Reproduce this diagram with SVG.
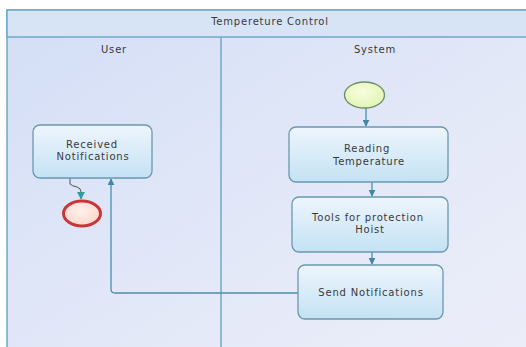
<svg xmlns="http://www.w3.org/2000/svg" width="526" height="347" viewBox="0 0 526 347">
<defs>
<linearGradient id="bg" x1="0" y1="0" x2="1" y2="1">
<stop offset="0" stop-color="#d3def6"/>
<stop offset="0.6" stop-color="#e4e9f8"/>
<stop offset="1" stop-color="#eceef9"/>
</linearGradient>
<linearGradient id="box" x1="0" y1="0" x2="0" y2="1">
<stop offset="0" stop-color="#eef5fc"/>
<stop offset="1" stop-color="#c4e2f4"/>
</linearGradient>
<radialGradient id="start" cx="0.45" cy="0.4" r="0.6">
<stop offset="0" stop-color="#f8fde0"/>
<stop offset="1" stop-color="#e2f5b4"/>
</radialGradient>
<radialGradient id="end" cx="0.45" cy="0.4" r="0.6">
<stop offset="0" stop-color="#fff2ea"/>
<stop offset="1" stop-color="#fbd6cc"/>
</radialGradient>
<marker id="arr" viewBox="0 0 10 10" refX="9" refY="5" markerWidth="7" markerHeight="7" markerUnits="userSpaceOnUse" orient="auto">
<path d="M0,0 L10,5 L0,10 z" fill="#3f87a6"/>
</marker>
<marker id="arrT" viewBox="0 0 10 10" refX="9" refY="5" markerWidth="8" markerHeight="8" markerUnits="userSpaceOnUse" orient="auto">
<path d="M0,0 L10,5 L0,10 z" fill="#2f9a9c"/>
</marker>
</defs>
<style>
.lbl{font-family:"DejaVu Sans",Verdana,sans-serif;font-size:10px;letter-spacing:0.8px;fill:#3a3a3a;text-anchor:middle}
.task{fill:url(#box);stroke:#6a98ae;stroke-width:1.3}
.flow{fill:none;stroke:#4a8eaa;stroke-width:1.3}
</style>
<rect width="526" height="347" fill="#ffffff"/>
<g id="pool">
<rect x="7" y="10" width="530" height="350" fill="url(#bg)" stroke="#6fa8c8" stroke-width="1.5"/>
<rect x="7" y="10" width="530" height="27" fill="#d6e4f6" stroke="#6fa8c8" stroke-width="1.5"/>
<text class="lbl" x="270" y="25">Tempereture Control</text>
</g>
<g id="lane-user">
<text class="lbl" x="114" y="53">User</text>
</g>
<g id="lane-system">
<line x1="221" y1="37" x2="221" y2="347" stroke="#6fa8c8" stroke-width="1.5"/>
<text class="lbl" x="375" y="53">System</text>
</g>
<g id="connectors">
<path class="flow" d="M366,108 V126" marker-end="url(#arr)"/>
<path class="flow" d="M372,182 V196" marker-end="url(#arr)"/>
<path class="flow" d="M372,252 V264" marker-end="url(#arr)"/>
<path class="flow" d="M298,293 H115 Q111,293 111,289 V179" marker-end="url(#arr)"/>
<path d="M70,178 V184 Q72,186 77,187 Q81,188 81,192 V199" fill="none" stroke="#555" stroke-width="1" marker-end="url(#arrT)"/>
</g>
<g id="start">
<ellipse cx="364.5" cy="95" rx="20" ry="13" fill="url(#start)" stroke="#6d8e6a" stroke-width="1.3"/>
</g>
<g id="received">
<rect class="task" x="33" y="125" width="119" height="53" rx="7"/>
<text class="lbl" x="92" y="148">Received</text>
<text class="lbl" x="93" y="160">Notifications</text>
</g>
<g id="end">
<ellipse cx="82" cy="213.5" rx="18.5" ry="12.5" fill="url(#end)" stroke="#c9363a" stroke-width="3"/>
</g>
<g id="reading">
<rect class="task" x="289" y="127" width="159" height="55" rx="7"/>
<text class="lbl" x="367" y="152">Reading</text>
<text class="lbl" x="369" y="165">Temperature</text>
</g>
<g id="tools">
<rect class="task" x="292" y="197" width="156" height="55" rx="7"/>
<text class="lbl" x="368" y="221">Tools for protection</text>
<text class="lbl" x="370" y="233">Hoist</text>
</g>
<g id="send">
<rect class="task" x="298" y="265" width="145" height="54" rx="7"/>
<text class="lbl" x="371" y="296">Send Notifications</text>
</g>
</svg>
